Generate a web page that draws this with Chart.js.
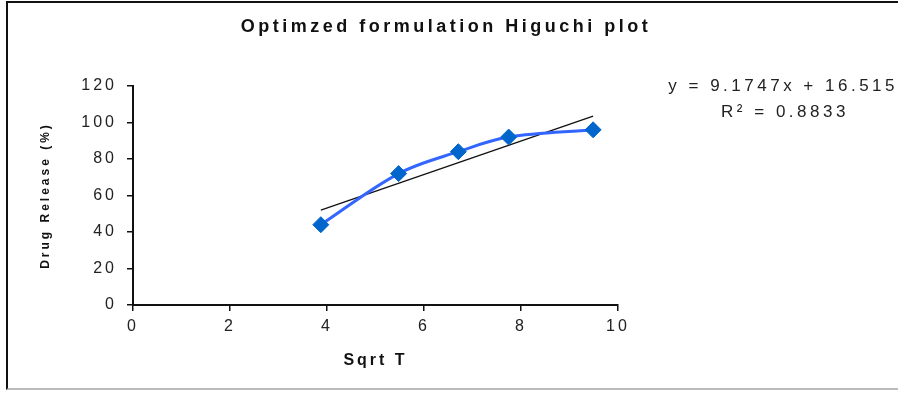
<!DOCTYPE html>
<html>
<head>
<meta charset="utf-8">
<script src="https://cdn.jsdelivr.net/npm/chart.js@4.4.1/dist/chart.umd.min.js"></script>
<style>
    html, body { margin: 0; padding: 0; background: #fff; overflow: hidden; }
    #wrap { position: relative; width: 898px; height: 393px; }
    #frame {
        position: absolute; left: 6px; top: 1px; width: 920px; height: 385px;
        border: 2px solid #111; border-bottom-color: #bbb; pointer-events: none;
    }
</style>
</head>
<body>
<div id="wrap">
    <canvas id="higuchiChart" width="898" height="393"></canvas>
    <div id="frame"></div>
</div>
<script>
var sqrtT = [3.873, 5.477, 6.708, 7.746, 9.487];
var drugRelease = [44, 72, 84, 92, 96];
var trendSlope = 9.1747;
var trendIntercept = 16.515;
var rSquared = 0.8833;
var xTicks = [0, 2, 4, 6, 8, 10];
var yTicks = [0, 20, 40, 60, 80, 100, 120];

document.addEventListener('DOMContentLoaded', function () {
    var releasePoints = sqrtT.map(function (x, i) { return { x: x, y: drugRelease[i] }; });
    var xFirst = sqrtT[0], xLast = sqrtT[sqrtT.length - 1];
    var trendPoints = [
        { x: xFirst, y: trendSlope * xFirst + trendIntercept },
        { x: xLast, y: trendSlope * xLast + trendIntercept }
    ];

    // extra text: title and trendline equation, plus wide letter spacing
    var textPlugin = {
        id: 'excelText',
        beforeDraw: function (chart) {
            chart.ctx.letterSpacing = '3px';
        },
        afterDraw: function (chart) {
            var ctx = chart.ctx;
            ctx.save();
            ctx.fillStyle = '#111';
            ctx.textBaseline = 'middle';
            ctx.textAlign = 'center';
            ctx.letterSpacing = '3.5px';
            ctx.font = 'bold 18px "Liberation Sans", Arial, sans-serif';
            ctx.fillText('Optimzed formulation Higuchi plot', 446, 27);

            ctx.font = '17px "Liberation Sans", Arial, sans-serif';
            ctx.fillStyle = '#222';
            ctx.textAlign = 'right';
            ctx.fillText('y = ' + trendSlope + 'x + ' + trendIntercept, 898, 86);
            ctx.textAlign = 'center';
            ctx.fillText('R\u00B2 = ' + rSquared, 785, 112);
            ctx.restore();
            ctx.letterSpacing = '0px';
        }
    };

    var ctx = document.getElementById('higuchiChart').getContext('2d');

    var higuchiChart = new Chart(ctx, {
        type: 'scatter',
        data: {
            datasets: [
                {
                    label: 'Drug Release',
                    data: releasePoints,
                    showLine: true,
                    borderColor: '#3366ff',
                    borderWidth: 3,
                    tension: 0.35,
                    pointStyle: 'rectRot',
                    pointRadius: 8,
                    pointBackgroundColor: '#0066cc',
                    pointBorderColor: '#0066cc',
                    pointBorderWidth: 1
                },
                {
                    label: 'Linear',
                    data: trendPoints,
                    showLine: true,
                    borderColor: '#111',
                    borderWidth: 1.3,
                    pointRadius: 0
                }
            ]
        },
        options: {
            responsive: false,
            animation: false,
            layout: { padding: { left: 0, top: 86, right: 280, bottom: 0 } },
            plugins: {
                legend: { display: false },
                tooltip: { enabled: false }
            },
            scales: {
                x: {
                    type: 'linear',
                    min: 0,
                    max: 10,
                    afterBuildTicks: function (axis) {
                        axis.ticks = xTicks.map(function (v) { return { value: v }; });
                    },
                    afterFit: function (axis) { axis.height = 88; },
                    border: { color: '#111', width: 2 },
                    grid: { drawOnChartArea: false, color: '#111', tickLength: 6, lineWidth: 1.5 },
                    ticks: {
                        color: '#222',
                        padding: 6,
                        maxRotation: 0,
                        font: { family: '"Liberation Sans", Arial, sans-serif', size: 16 }
                    },
                    title: {
                        display: true,
                        text: 'Sqrt T',
                        color: '#111',
                        padding: { top: 0, bottom: 23 },
                        font: { family: '"Liberation Sans", Arial, sans-serif', size: 16, weight: 'bold' }
                    }
                },
                y: {
                    min: 0,
                    max: 120,
                    afterBuildTicks: function (axis) {
                        axis.ticks = yTicks.map(function (v) { return { value: v }; });
                    },
                    afterFit: function (axis) { axis.width = 133; },
                    border: { color: '#111', width: 2 },
                    grid: { drawOnChartArea: false, color: '#111', tickLength: 6, lineWidth: 1.5 },
                    ticks: {
                        color: '#222',
                        padding: 10,
                        font: { family: '"Liberation Sans", Arial, sans-serif', size: 16 }
                    },
                    title: {
                        display: true,
                        text: 'Drug Release (%)',
                        color: '#111',
                        padding: { top: 38, bottom: 0 },
                        font: { family: '"Liberation Sans", Arial, sans-serif', size: 12, weight: 'bold' }
                    }
                }
            }
        },
        plugins: [textPlugin]
    });
});
</script>
</body>
</html>
